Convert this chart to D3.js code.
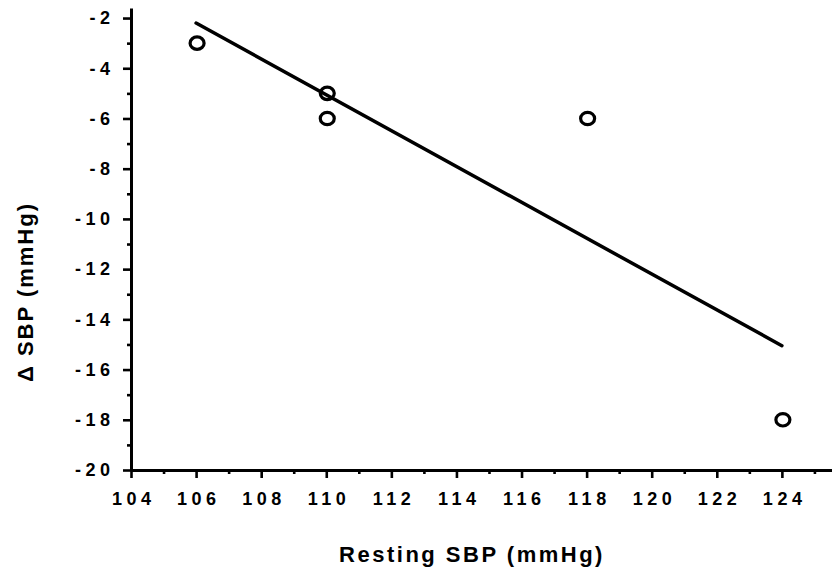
<!DOCTYPE html>
<html>
<head>
<meta charset="utf-8">
<script src="https://cdn.jsdelivr.net/npm/d3@7"></script>
<style>
  html, body { margin: 0; padding: 0; background: #fff; }
  svg { display: block; }
  text { font-family: "Liberation Sans", Arial, sans-serif; font-weight: bold; fill: #000; }
</style>
</head>
<body>
<script>
/*global d3*/

// Data
var restingSBP = [106, 110, 110, 118, 124];
var deltaSBP = [-3, -5, -6, -6, -18];
// fitted line as drawn in the figure (end points)
var fitX = [106, 124];
var fitY = [-2.2, -15.05];
var xMajorTicks = [104, 106, 108, 110, 112, 114, 116, 118, 120, 122, 124];
var xMinorTicks = [105, 107, 109, 111, 113, 115, 117, 119, 121, 123, 125];
var yMajorTicks = [-2, -4, -6, -8, -10, -12, -14, -16, -18, -20];
var yMinorTicks = [-3, -5, -7, -9, -11, -13, -15, -17, -19];
var xTitle = "Resting SBP (mmHg)";
var yTitle = "\u0394 SBP (mmHg)";

(function () {
  "use strict";

  var width = 832,
    height = 577,
    spacing = 4.5,
    svg, x, y, points, fit;

  svg = d3.select("body").append("svg")
    .attr("width", width)
    .attr("height", height);

  x = d3.scaleLinear().domain([104, 125.54]).range([131, 832]);
  y = d3.scaleLinear().domain([-20, -1.6]).range([470, 8]);

  // minor ticks first, majors drawn on top
  svg.append("g")
    .attr("transform", "translate(0," + y(-20) + ")")
    .call(d3.axisBottom(x).tickValues(xMinorTicks).tickSize(4).tickSizeOuter(0).tickFormat(""))
    .call(function (g) { g.select(".domain").remove(); });

  svg.append("g")
    .attr("transform", "translate(" + x(104) + ",0)")
    .call(d3.axisLeft(y).tickValues(yMinorTicks).tickSize(4).tickSizeOuter(0).tickFormat(""))
    .call(function (g) { g.select(".domain").remove(); });

  svg.append("g")
    .attr("class", "x axis")
    .attr("transform", "translate(0," + y(-20) + ")")
    .call(d3.axisBottom(x).tickValues(xMajorTicks).tickSize(8).tickSizeOuter(0)
      .tickPadding(14).tickFormat(d3.format("d")))
    .call(function (g) {
      g.selectAll("text")
        .attr("font-size", 18)
        .attr("dx", spacing / 2)
        .style("letter-spacing", spacing + "px");
    });

  svg.append("g")
    .attr("class", "y axis")
    .attr("transform", "translate(" + x(104) + ",0)")
    .call(d3.axisLeft(y).tickValues(yMajorTicks).tickSize(8).tickSizeOuter(0)
      .tickPadding(13).tickFormat(function (d) { return "-" + Math.abs(d); }))
    .call(function (g) {
      g.selectAll("text")
        .attr("font-size", 18)
        .attr("dx", spacing)
        .style("letter-spacing", spacing + "px");
    });

  svg.selectAll(".axis path, .axis line, g line")
    .attr("stroke", "#000")
    .attr("stroke-width", 2.6);
  svg.selectAll(".axis .domain").attr("stroke-width", 3);

  // regression line
  fit = d3.line()
    .x(function (d) { return x(d[0]); })
    .y(function (d) { return y(d[1]); });

  svg.append("path")
    .datum(d3.zip(fitX, fitY))
    .attr("d", fit)
    .attr("fill", "none")
    .attr("stroke", "#000")
    .attr("stroke-width", 3.5)
    .attr("stroke-linecap", "round");

  points = d3.zip(restingSBP, deltaSBP);
  svg.selectAll(".pt")
    .data(points)
    .enter()
    .append("ellipse")
    .attr("class", "pt")
    .attr("cx", function (d) { return x(d[0]) + 1; })
    .attr("cy", function (d) { return y(d[1]); })
    .attr("rx", 7)
    .attr("ry", 6.2)
    .attr("fill", "none")
    .attr("stroke", "#000")
    .attr("stroke-width", 3.2);

  svg.append("text")
    .attr("x", 472)
    .attr("y", 562)
    .attr("text-anchor", "middle")
    .attr("font-size", 22)
    .style("letter-spacing", "2.5px")
    .text(xTitle);

  svg.append("text")
    .attr("transform", "translate(33,292) rotate(-90)")
    .attr("text-anchor", "middle")
    .attr("font-size", 22)
    .style("letter-spacing", "2px")
    .text(yTitle);
}());
</script>
</body>
</html>
